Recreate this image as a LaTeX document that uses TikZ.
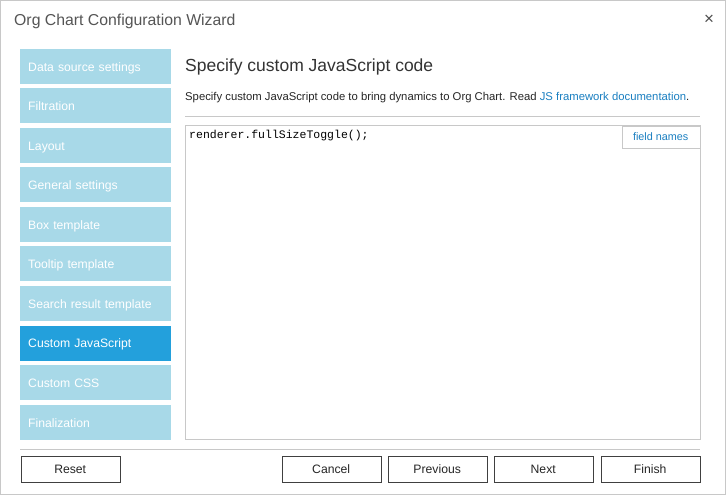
\documentclass[tikz,border=0pt]{standalone}
\usepackage{fontspec}
\setmainfont{Liberation Sans}
\setmonofont{Liberation Mono}
\definecolor{side}{HTML}{A8D9E8}
\definecolor{act}{HTML}{23A0DC}
\definecolor{ttl}{HTML}{555555}
\definecolor{lnk}{HTML}{1A7FC1}
\definecolor{brd}{HTML}{C8C8C8}
\begin{document}
\begin{tikzpicture}[x=1pt,y=-1pt,
 sidebtn/.style={fill=side,draw=none,minimum width=151pt,minimum height=35pt,anchor=north west,text=white,font=\fontsize{12.2}{14}\selectfont,inner xsep=8pt,text width=135pt,align=left,text height=12pt,text depth=3pt},
 actbtn/.style={sidebtn,fill=act},
 btn/.style={draw=black!75,fill=white,minimum width=99pt,minimum height=26pt,anchor=north west,font=\fontsize{12.2}{14}\selectfont,text=black!85,text height=12pt,text depth=3pt}]
\useasboundingbox (0,0) rectangle (726,495);
\draw[brd,fill=white] (0.5,0.5) rectangle (725.5,494.5);
\node[anchor=west,text=ttl,font=\fontsize{15.8}{18}\selectfont,inner xsep=0pt] (title) at (14,21) {Org Chart Configuration Wizard};
\node[text=black!70,font=\fontsize{17}{18}\selectfont] (close) at (709,20) {×};
\foreach \y/\t [count=\i] in {49/Data source settings,88/Filtration,128/Layout,167/General settings,207/Box template,246/Tooltip template,286/Search result template,365/Custom CSS,405/Finalization}
  \node[sidebtn] (s\i) at (20,\y) {\t};
\node[actbtn] (sact) at (20,325.5) {Custom JavaScript};
\node[anchor=west,text=black!80,font=\fontsize{17.5}{20}\selectfont,inner xsep=0pt] (head) at (185,67) {Specify custom JavaScript code};
\node[anchor=west,text=black!85,font=\fontsize{11.3}{13}\selectfont,inner xsep=0pt] (desc) at (185,98) {Specify custom JavaScript code to bring dynamics to Org Chart. Read \textcolor{lnk}{JS framework documentation}.};
\draw[brd] (185,116.5) -- (700,116.5);
\draw[brd,fill=white] (185.5,125.5) rectangle (700.5,439.5);
\node[draw=brd,fill=white,anchor=north west,minimum width=78pt,minimum height=22pt,text=lnk,font=\fontsize{10.8}{12}\selectfont] (fn) at (621.5,125.5) {field names};
\node[anchor=west,font=\ttfamily\fontsize{11.5}{13}\selectfont,inner xsep=0pt] (code) at (189,136) {renderer.fullSizeToggle();};
\draw[brd] (20,449.5) -- (700,449.5);
\node[btn] (reset) at (20.5,455.5) {Reset};
\node[btn] (cancel) at (281.5,455.5) {Cancel};
\node[btn] (prev) at (387.5,455.5) {Previous};
\node[btn] (next) at (493.5,455.5) {Next};
\node[btn] (fin) at (600.5,455.5) {Finish};
\end{tikzpicture}
\end{document}
